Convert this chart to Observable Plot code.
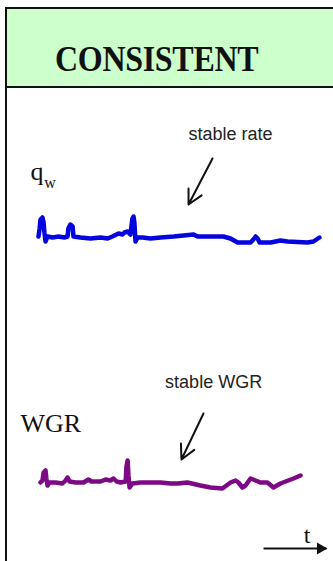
<!DOCTYPE html>
<html>
<head>
<meta charset="utf-8">
<script src="https://cdn.jsdelivr.net/npm/d3@7"></script>
<script src="https://cdn.jsdelivr.net/npm/@observablehq/plot@0.6"></script>
<style>
  html, body { margin: 0; padding: 0; background: #fff; overflow: hidden; width: 333px; height: 561px; }
  #hdr { position: absolute; left: 5px; top: 7px; width: 400px; height: 77px; background: #ccffcc;
         border: 2px solid #111; border-right: none; }
  #title { position: absolute; left: 48px; top: 32px; font: 700 32px "Liberation Serif", serif; line-height: 32px;
           letter-spacing: -0.3px; color: #111; transform: scaleY(1.1); transform-origin: 0 0; white-space: nowrap; }
  #vline { position: absolute; left: 5px; top: 88px; width: 2px; height: 480px; background: #111; }
  #chart { position: absolute; left: 0; top: 88px; }
  #chart svg { overflow: visible; }
</style>
</head>
<body>
<div id="hdr"><div id="title">CONSISTENT</div></div>
<div id="vline"></div>
<div id="chart"></div>
<script>
// time (arbitrary units) and signal levels (arbitrary units)
const qwTime = [0.0,0.4,0.7,1.4,1.8,2.1,2.5,3.2,5.0,7.1,9.2,10.3,10.6,11.3,12.1,12.4,14.9,18.4,22.0,24.5,26.2,28.4,29.8,30.5,31.6,32.6,33.3,33.7,34.0,34.4,35.1,36.9,39.7,43.3,47.9,55.0,56.4,65.6,68.1,70.6,75.2,76.2,77.0,77.7,78.4,82.3,85.8,88.3,95.4,97.5,99.6];
const qwValues = [65.0,66.6,68.4,68.8,67.8,65.8,64.0,65.0,64.8,65.0,64.8,65.0,66.6,67.4,67.0,65.0,64.8,64.6,64.8,64.6,65.0,65.6,65.4,65.8,66.0,65.4,68.6,69.0,67.8,64.0,64.8,64.8,64.6,64.8,65.0,65.4,65.0,65.0,64.6,63.8,63.8,64.4,65.0,64.6,63.8,63.8,64.2,64.0,63.8,64.0,64.8];

const wgrTime = [0.7,1.4,1.8,2.5,2.8,3.2,3.9,6.0,8.5,9.6,10.3,11.0,13.1,16.0,17.7,18.8,22.0,23.8,25.5,26.6,27.7,29.1,30.9,31.2,31.6,31.9,32.3,33.3,36.2,39.7,43.3,46.8,49.3,52.8,57.4,61.0,65.2,68.1,69.9,70.9,72.3,73.4,75.2,77.0,78.7,81.2,83.3,85.8,90.4,92.9];
const wgrValues = [15.8,16.2,17.8,18.2,16.6,15.2,15.8,15.8,15.6,16.2,16.8,16.0,15.8,15.8,16.4,16.0,16.0,16.4,16.2,16.6,16.0,15.8,16.0,19.0,20.2,17.2,14.8,15.6,15.8,15.8,15.8,15.6,15.6,15.8,15.2,14.8,14.6,15.8,16.2,15.8,14.8,15.2,16.6,16.2,15.8,15.8,14.8,15.6,16.6,17.2];

// annotation labels
const noteText = ["stable rate", "stable WGR"];
const noteTime = [68.1, 62.1];
const noteLevel = [85.5, 35.8];

const seriesLabel = ["q", "w", "WGR", "t"];
const seriesLabelTime = [-2.8, 2.0, -6.4, 95.2];
const seriesLabelLevel = [77.9, 75.8, 27.5, 5.3];
const seriesLabelSize = [26, 16, 26, 24];
const seriesLabelAnchor = ["start", "start", "start", "middle"];

// pointer arrows: [t1, level1, t2, level2]
const arrowT1 = [61.7, 58.5];
const arrowL1 = [80.6, 29.6];
const arrowT2 = [53.2, 50.7];
const arrowL2 = [71.4, 20.4];

// time axis arrow
const axisT = [79.8, 102.1];
const axisLevel = 2.6;

const qw = qwTime.map((t, i) => ({t, v: qwValues[i]}));
const wgr = wgrTime.map((t, i) => ({t, v: wgrValues[i]}));
const notes = noteText.map((s, i) => ({s, t: noteTime[i], v: noteLevel[i]}));
const labels = seriesLabel.map((s, i) => ({s, t: seriesLabelTime[i], v: seriesLabelLevel[i], size: seriesLabelSize[i], anchor: seriesLabelAnchor[i]}));
const arrows = arrowT1.map((t1, i) => ({t1, v1: arrowL1[i], t2: arrowT2[i], v2: arrowL2[i]}));
const axis = [{t1: axisT[0], t2: axisT[1], v: axisLevel}];

const chart = Plot.plot({
  width: 333,
  height: 473,
  marginLeft: 38,
  marginRight: 13,
  marginTop: 0,
  marginBottom: 0,
  x: {domain: [0, 100], axis: null},
  y: {domain: [0, 94.6], axis: null},
  style: {background: "transparent", overflow: "visible"},
  marks: [
    Plot.line(qw, {x: "t", y: "v", stroke: "#0505e0", strokeWidth: 4.5, strokeLinejoin: "round", strokeLinecap: "round"}),
    Plot.line(wgr, {x: "t", y: "v", stroke: "#7d0a85", strokeWidth: 4.5, strokeLinejoin: "round", strokeLinecap: "round"}),
    Plot.arrow(arrows, {x1: "t1", y1: "v1", x2: "t2", y2: "v2", stroke: "#111", strokeWidth: 2, headLength: 12, headAngle: 55}),
    Plot.link(axis, {x1: "t1", x2: "t2", y1: "v", y2: "v", stroke: "#111", strokeWidth: 1.8}),
    Plot.dot(axis, {x: "t2", y: "v", symbol: "triangle", rotate: 90, r: 4.5, fill: "#111", stroke: null, dx: -6}),
    Plot.text(notes, {x: "t", y: "v", text: "s", fontSize: 18, fontFamily: "Liberation Sans, Arial, sans-serif", fill: "#222", textAnchor: "middle"}),
    ...labels.map(d => Plot.text([d], {x: "t", y: "v", text: "s", fontSize: d.size, fontFamily: "Liberation Serif, Times New Roman, serif", fill: "#111", textAnchor: d.anchor}))
  ]
});
document.getElementById("chart").appendChild(chart);
</script>
</body>
</html>
